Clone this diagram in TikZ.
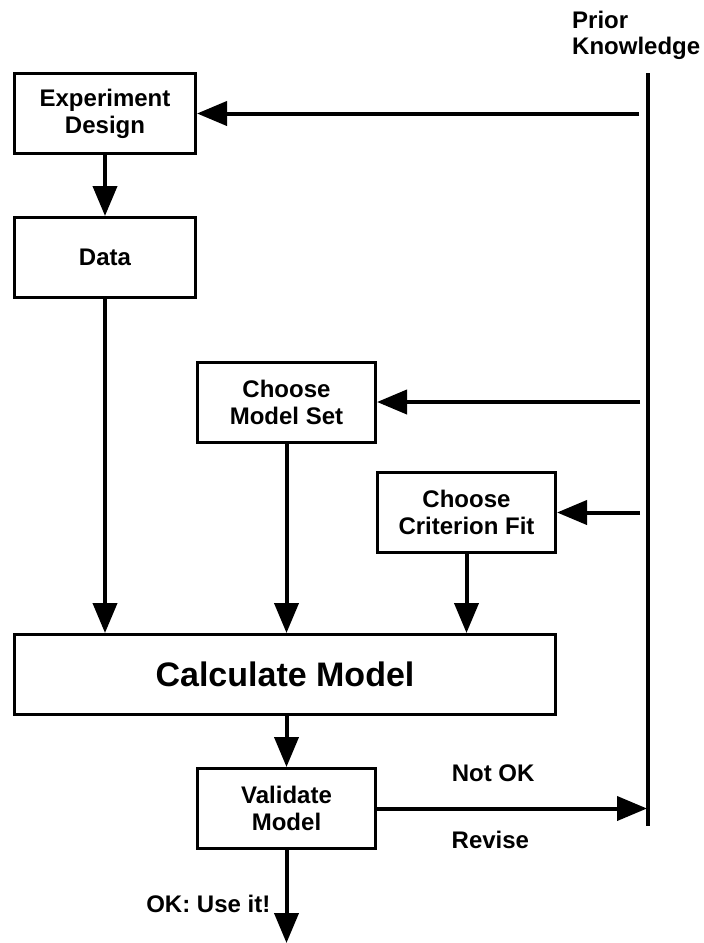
\documentclass[tikz,border=0pt]{standalone}
\usepackage{fontspec}
\setmainfont{Liberation Sans}
\usetikzlibrary{arrows.meta,positioning,calc}

\begin{document}
\begin{tikzpicture}[x=1pt, y=-1pt,
		box/.style={draw, line width=3pt, align=center, inner sep=0pt,
			minimum width=181pt, minimum height=80pt,
			font=\bfseries\fontsize{24}{27}\selectfont},
		smallbox/.style={box, minimum width=178pt},
		flow/.style={line width=4pt, -{Triangle[length=30pt,width=24pt]}},
		lbl/.style={inner sep=0pt, font=\bfseries\fontsize{24}{26}\selectfont}]
	\useasboundingbox (0,0) rectangle (704,943);
	\node[box] (design) at (105,113.5) {Experiment\\Design};
	\node[box] (data) at (105,257.5) {Data};
	\node[smallbox] (modelset) at (286.5,402) {Choose\\Model Set};
	\node[smallbox] (criterion) at (466.5,512.5) {Choose\\Criterion Fit};
	\node[box, minimum width=541pt, font=\bfseries\fontsize{34}{40}\selectfont] (calc) at (285,674.5) {Calculate Model};
	\node[smallbox] (validate) at (286.5,808.5) {Validate\\Model};
	\node[lbl, anchor=north west, align=left] (prior) at (572,10.5) {Prior\\Knowledge};
	\coordinate (pktop) at (648,73);
	\coordinate (pkbot) at (648,826);
	\coordinate (pkdesign) at (639,113.5);
	\coordinate (pkmodel) at (640,402);
	\coordinate (pkcrit) at (640,512.5);
	\coordinate (revise) at (647,808.5);
	\coordinate (useit) at (286.5,943);
	\draw[line width=4pt] (pktop) -- (pkbot);
	\draw[flow] (pkdesign) -- (design.east);
	\draw[flow] (pkmodel) -- (modelset.east);
	\draw[flow] (pkcrit) -- (criterion.east);
	\draw[flow] (design) -- (data);
	\draw[flow] (data.south) -- (data.south |- calc.north);
	\draw[flow] (modelset.south) -- (modelset.south |- calc.north);
	\draw[flow] (criterion.south) -- (criterion.south |- calc.north);
	\draw[flow] (validate.north |- calc.south) -- (validate.north);
	\draw[flow] (validate.east) -- node[lbl, above=25pt, pos=0.43] (notok) {Not OK}
		node[lbl, below=21pt, pos=0.42] (revtext) {Revise} (revise);
	\draw[flow] (validate.south) -- (useit);
	\node[lbl, anchor=base east] (ok) at ($(validate.south)+(-16,62)$) {OK: Use it!};
\end{tikzpicture}
\end{document}
